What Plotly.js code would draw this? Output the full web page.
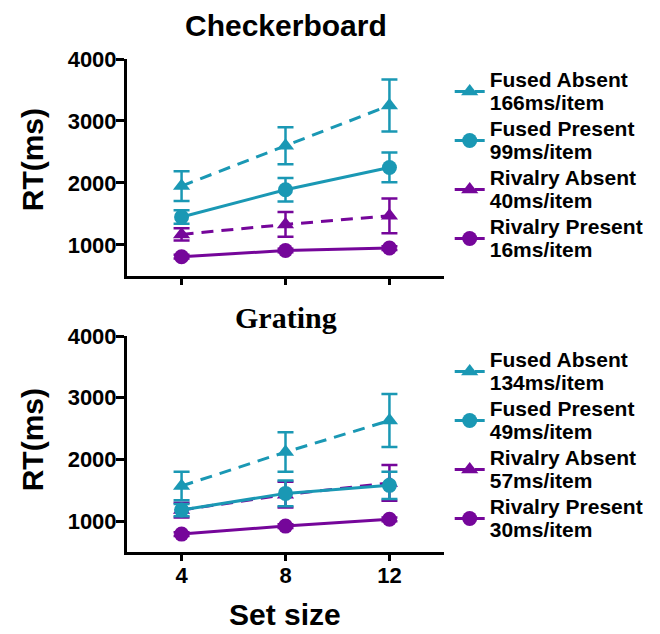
<!DOCTYPE html>
<html>
<head>
<meta charset="utf-8">
<script src="https://cdn.plot.ly/plotly-3.0.1.min.js"></script>
<style>html,body{margin:0;padding:0;background:#fff;}#chart{width:660px;height:634px;}</style>
</head>
<body>
<div id="chart"></div>
<script>
// ---- data ----
const setSize = [4, 8, 12];

// Checkerboard
const cbFusedAbsent = [1950, 2600, 3250];
const cbFusedAbsentErr = [240, 300, 420];
const cbFusedPresent = [1450, 1890, 2250];
const cbFusedPresentErr = [110, 190, 240];
const cbRivalryAbsent = [1170, 1330, 1470];
const cbRivalryAbsentErr = [100, 200, 280];
const cbRivalryPresent = [810, 910, 950];
const cbRivalryPresentErr = [30, 30, 30];
const cbLabels = ["Fused Absent<br>166ms/item", "Fused Present<br>99ms/item",
                  "Rivalry Absent<br>40ms/item", "Rivalry Present<br>16ms/item"];

// Grating
const grFusedAbsent = [1570, 2120, 2630];
const grFusedAbsentErr = [230, 320, 430];
const grFusedPresent = [1180, 1450, 1580];
const grFusedPresentErr = [100, 210, 220];
const grRivalryAbsent = [1180, 1430, 1620];
const grRivalryAbsentErr = [120, 210, 290];
const grRivalryPresent = [790, 920, 1030];
const grRivalryPresentErr = [30, 30, 30];
const grLabels = ["Fused Absent<br>134ms/item", "Fused Present<br>49ms/item",
                  "Rivalry Absent<br>57ms/item", "Rivalry Present<br>30ms/item"];

const yTicks = [1000, 2000, 3000, 4000];
const xTicks = [4, 8, 12];

// ---- styles ----
const TEAL = '#1a98b4';
const PURPLE = '#75069a';

function mkTrace(y, err, label, color, symbol, dash, xa, ya, leg, rank) {
  return {
    x: setSize, y: y, type: 'scatter', mode: 'lines+markers',
    xaxis: xa, yaxis: ya, legend: leg, legendrank: rank,
    name: '<span style="font-size:21px">' + label.replace('<br>', '</span><br><span style="font-size:21px">') + '</span>',
    line: {color: color, width: 3, dash: dash},
    marker: {color: color, size: 15, symbol: symbol},
    error_y: {type: 'data', array: err, visible: true, color: color, thickness: 2.5, width: 8},
    cliponaxis: false
  };
}

const traces = [
  mkTrace(cbRivalryPresent, cbRivalryPresentErr, cbLabels[3], PURPLE, 'circle', 'solid', 'x', 'y', 'legend', 4),
  mkTrace(cbRivalryAbsent, cbRivalryAbsentErr, cbLabels[2], PURPLE, 'triangle-up', '12px,8px', 'x', 'y', 'legend', 3),
  mkTrace(cbFusedPresent, cbFusedPresentErr, cbLabels[1], TEAL, 'circle', 'solid', 'x', 'y', 'legend', 2),
  mkTrace(cbFusedAbsent, cbFusedAbsentErr, cbLabels[0], TEAL, 'triangle-up', '12px,8px', 'x', 'y', 'legend', 1),
  mkTrace(grRivalryPresent, grRivalryPresentErr, grLabels[3], PURPLE, 'circle', 'solid', 'x2', 'y2', 'legend2', 4),
  mkTrace(grRivalryAbsent, grRivalryAbsentErr, grLabels[2], PURPLE, 'triangle-up', '12px,8px', 'x2', 'y2', 'legend2', 3),
  mkTrace(grFusedPresent, grFusedPresentErr, grLabels[1], TEAL, 'circle', 'solid', 'x2', 'y2', 'legend2', 2),
  mkTrace(grFusedAbsent, grFusedAbsentErr, grLabels[0], TEAL, 'triangle-up', '12px,8px', 'x2', 'y2', 'legend2', 1)
];

const tickFont = {family: 'Arial, "Liberation Sans", sans-serif', size: 22, weight: 'bold', color: '#000'};
const legFont = {family: 'Arial, "Liberation Sans", sans-serif', size: 17.7, weight: 'bold', color: '#000'};

function xAxis(domainAnchor, showLabels) {
  return {
    anchor: domainAnchor, range: [1.9, 14.1], tickvals: xTicks, ticktext: xTicks.map(String),
    showticklabels: showLabels, ticks: 'outside', ticklen: 6, tickwidth: 3, tickcolor: '#000',
    ticklabelstandoff: -4,
    showline: true, linewidth: 3, linecolor: '#000', showgrid: false, zeroline: false,
    tickfont: tickFont, fixedrange: true
  };
}
function yAxis(domain, anchor) {
  return {
    domain: domain, anchor: anchor, range: [500, 4000], tickvals: yTicks, ticktext: yTicks.map(String),
    ticks: 'outside', ticklen: 8, tickwidth: 3, tickcolor: '#000',
    ticklabelstandoff: -5,
    showline: true, linewidth: 3, linecolor: '#000', showgrid: false, zeroline: false,
    tickfont: tickFont, fixedrange: true
  };
}

const layout = {
  width: 660, height: 634,
  margin: {l: 127, r: 207, t: 59, b: 82},
  paper_bgcolor: '#fff', plot_bgcolor: '#fff',
  showlegend: true,
  xaxis: xAxis('y', false),
  yaxis: yAxis([0.56, 1], 'x'),
  xaxis2: xAxis('y2', true),
  yaxis2: yAxis([0, 0.438], 'x2'),
  legend: {x: 1.018, xanchor: 'left', y: 0.994, yanchor: 'top', font: legFont,
           bgcolor: 'rgba(0,0,0,0)', traceorder: 'normal', itemclick: false},
  legend2: {x: 1.018, xanchor: 'left', y: 0.426, yanchor: 'top', font: legFont,
            bgcolor: 'rgba(0,0,0,0)', traceorder: 'normal', itemclick: false},
  annotations: [
    {text: 'Checkerboard', xref: 'paper', yref: 'paper', x: 0.5, y: 1.067, showarrow: false,
     xanchor: 'center', yanchor: 'middle',
     font: {family: 'Arial, "Liberation Sans", sans-serif', size: 30, weight: 'bold', color: '#000'}},
    {text: 'Grating', xref: 'paper', yref: 'paper', x: 0.5, y: 0.4757, showarrow: false,
     xanchor: 'center', yanchor: 'middle',
     font: {family: '"Times New Roman", "Liberation Serif", serif', size: 30, weight: 'bold', color: '#000'}},
    {text: 'RT(ms)', xref: 'paper', yref: 'paper', x: -0.299, y: 0.795, showarrow: false,
     textangle: -90, xanchor: 'center', yanchor: 'middle',
     font: {family: 'Arial, "Liberation Sans", sans-serif', size: 30, weight: 'bold', color: '#000'}},
    {text: 'RT(ms)', xref: 'paper', yref: 'paper', x: -0.299, y: 0.227, showarrow: false,
     textangle: -90, xanchor: 'center', yanchor: 'middle',
     font: {family: 'Arial, "Liberation Sans", sans-serif', size: 30, weight: 'bold', color: '#000'}},
    {text: 'Set size', xref: 'paper', yref: 'paper', x: 0.497, y: -0.1643, showarrow: false,
     xanchor: 'center', yanchor: 'bottom',
     font: {family: 'Arial, "Liberation Sans", sans-serif', size: 30, weight: 'bold', color: '#000'}}
  ]
};

Plotly.newPlot('chart', traces, layout, {displayModeBar: false, staticPlot: true});
</script>
</body>
</html>
